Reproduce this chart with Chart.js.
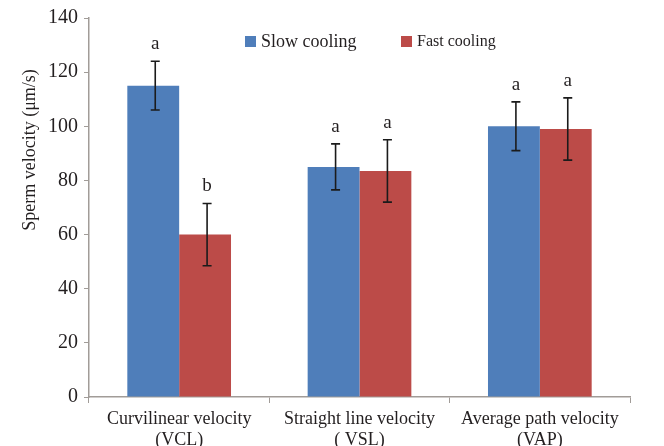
<!DOCTYPE html>
<html>
<head>
<meta charset="utf-8">
<script src="https://cdn.jsdelivr.net/npm/chart.js@4.4.0/dist/chart.umd.min.js"></script>
<style>
	html, body { margin: 0; padding: 0; background: #fff; }
	#wrap { width: 664px; height: 446px; }
</style>
</head>
<body>
<div id="wrap"><canvas id="myChart" width="664" height="446"></canvas></div>
<script>
// data
const categories = [
	["Curvilinear velocity", "(VCL)"],
	["Straight line velocity", "( VSL)"],
	["Average path velocity", "(VAP)"],
];
const seriesNames = ["Slow cooling", "Fast cooling"];
const slowMeans = [115, 85, 100];
const slowErrors = [9, 8.5, 9];
const fastMeans = [60, 83.5, 99];
const fastErrors = [11.5, 11.5, 11.5];
const slowLetters = ["a", "a", "a"];
const fastLetters = ["b", "a", "a"];
const yMin = 0;
const yMax = 140;
const yStep = 20;
const yTitle = "Sperm velocity (μm/s)";

const serif = "'Liberation Serif', 'Times New Roman', serif";
const textColor = "#231f20";
const axisColor = "#a19c98";
const blue = "#4f7eba";
const red = "#bc4b48";

Chart.defaults.font.family = serif;
Chart.defaults.color = textColor;

let errors = [slowErrors, fastErrors];
let letters = [slowLetters, fastLetters];

// error bars + significance letters
const errorBars = {
	id: "errorBars",
	afterDatasetsDraw(chart) {
		let ctx = chart.ctx;
		let y = chart.scales.y;
		ctx.save();
		ctx.strokeStyle = "#1b1b1b";
		ctx.lineWidth = 1.6;
		chart.data.datasets.forEach((ds, i) => {
			let meta = chart.getDatasetMeta(i);
			meta.data.forEach((bar, j) => {
				let v = ds.data[j];
				let e = errors[i][j];
				let top = y.getPixelForValue(v + e);
				let bot = y.getPixelForValue(v - e);
				let x = bar.x + 2;
				ctx.beginPath();
				ctx.moveTo(x, top);
				ctx.lineTo(x, bot);
				ctx.moveTo(x - 4.5, top);
				ctx.lineTo(x + 4.5, top);
				ctx.moveTo(x - 4.5, bot);
				ctx.lineTo(x + 4.5, bot);
				ctx.stroke();

				ctx.fillStyle = textColor;
				ctx.font = "19px " + serif;
				ctx.textAlign = "center";
				ctx.textBaseline = "alphabetic";
				ctx.fillText(letters[i][j], x, top - 12);
			});
		});
		ctx.restore();
	},
};

// legend inside the plot and the y title
const extras = {
	id: "extras",
	afterDraw(chart) {
		let ctx = chart.ctx;
		let area = chart.chartArea;
		ctx.save();
		let items = [
			{ x: 245, size: 18, color: chart.data.datasets[0].backgroundColor, text: chart.data.datasets[0].label },
			{ x: 401, size: 16, color: chart.data.datasets[1].backgroundColor, text: chart.data.datasets[1].label },
		];
		let cy = area.top + 23;
		items.forEach((it) => {
			ctx.fillStyle = it.color;
			ctx.fillRect(it.x, cy - 5, 11, 11);
			ctx.fillStyle = textColor;
			ctx.font = it.size + "px " + serif;
			ctx.textAlign = "left";
			ctx.textBaseline = "middle";
			ctx.fillText(it.text, it.x + 16, cy + 1);
		});

		ctx.translate(30, 150);
		ctx.rotate(-Math.PI / 2);
		ctx.font = "18px " + serif;
		ctx.textAlign = "center";
		ctx.textBaseline = "middle";
		ctx.fillText(yTitle, 0, 0);
		ctx.restore();
	},
};

let ctx = document.getElementById("myChart");
let myChart = new Chart(ctx, {
	type: "bar",
	data: {
		labels: categories,
		datasets: [
			{
				label: seriesNames[0],
				data: slowMeans,
				backgroundColor: blue,
				borderWidth: 0,
			},
			{
				label: seriesNames[1],
				data: fastMeans,
				backgroundColor: red,
				borderWidth: 0,
			},
		],
	},
	options: {
		responsive: false,
		animation: false,
		devicePixelRatio: 1,
		layout: {
			padding: { top: 15, right: 34, left: 0, bottom: 0 },
		},
		datasets: {
			bar: {
				categoryPercentage: 0.575,
				barPercentage: 1.0,
			},
		},
		plugins: {
			legend: { display: false },
			tooltip: { enabled: false },
		},
		scales: {
			x: {
				grid: {
					offset: true,
					drawOnChartArea: false,
					drawTicks: true,
					tickLength: 6,
					color: axisColor,
				},
				border: { color: axisColor, width: 1.5 },
				ticks: {
					font: { size: 18 },
					padding: 5,
					maxRotation: 0,
					autoSkip: false,
					color: textColor,
				},
				afterFit(scale) {
					scale.height = 49;
				},
			},
			y: {
				min: yMin,
				max: yMax,
				grid: {
					drawOnChartArea: false,
					drawTicks: true,
					tickLength: 5,
					color: axisColor,
				},
				border: { color: axisColor, width: 1.5 },
				ticks: {
					stepSize: yStep,
					font: { size: 20 },
					padding: 6,
					color: textColor,
				},
				afterFit(scale) {
					scale.width = 89;
				},
			},
		},
	},
	plugins: [errorBars, extras],
});
</script>
</body>
</html>
